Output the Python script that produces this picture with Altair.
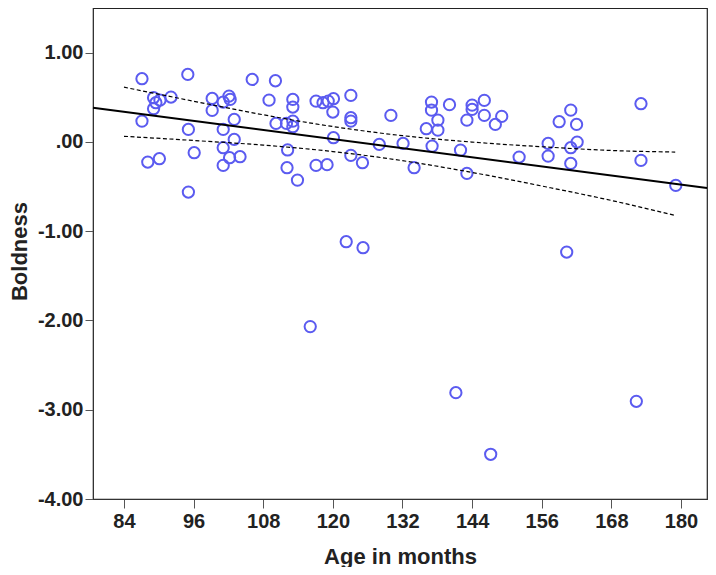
import altair as alt
import pandas as pd

# Scatter points: age (months) and boldness score
age = [87.1, 95.0, 106.1, 110.1, 89.1, 90.2, 89.5, 89.1, 92.1, 87.1,
       99.2, 102.1, 101.1, 102.3, 99.2, 109.0, 113.1, 113.1, 103.0, 101.1,
       95.1, 103.0, 101.1, 102.2, 104.0, 101.1, 96.1, 88.1, 90.1, 95.1,
       110.2, 112.0, 113.1, 113.1, 112.2, 112.1, 113.9, 117.1, 118.3, 119.2,
       120.1, 120.0, 123.1, 123.1, 123.1, 120.1, 123.1, 125.1, 117.1, 119.0,
       130.0, 128.0, 132.1, 134.0, 137.0, 137.0, 138.1, 136.1, 138.1, 137.1,
       140.1, 142.0, 143.1, 144.0, 144.0, 146.1, 146.1, 148.0, 149.1, 143.1,
       152.1, 157.1, 157.1, 159.0, 161.0, 162.0, 162.1, 161.0, 161.0, 173.1,
       173.1, 179.1, 122.3, 125.2, 160.3, 116.1, 141.2, 147.2, 172.3]
boldness = [0.708, 0.756, 0.700, 0.685, 0.495, 0.468, 0.439, 0.372, 0.502, 0.233,
            0.487, 0.513, 0.446, 0.476, 0.353, 0.468, 0.476, 0.390, 0.252, 0.140,
            0.140, 0.028, -0.065, -0.177, -0.166, -0.263, -0.121, -0.226, -0.188, -0.562,
            0.207, 0.207, 0.233, 0.170, -0.090, -0.289, -0.428, 0.457, 0.439, 0.457,
            0.484, 0.334, 0.521, 0.271, 0.233, 0.047, -0.151, -0.233, -0.263, -0.255,
            0.297, -0.028, -0.017, -0.289, 0.446, 0.356, 0.244, 0.148, 0.132, -0.047,
            0.417, -0.092, 0.244, 0.412, 0.364, 0.465, 0.297, 0.196, 0.286, -0.353,
            -0.170, -0.017, -0.159, 0.226, 0.356, 0.196, -0.002, -0.065, -0.241, 0.428,
            -0.207, -0.487, -1.118, -1.185, -1.234, -2.069, -2.809, -3.499, -2.906]

# Fit line end points
fit_x = [78.66, 184.48]
fit_y = [0.383, -0.516]

# Confidence band curves
band_x = [84, 96, 108, 120, 132, 144, 156, 168, 179]
band_upper = [0.613, 0.456, 0.304, 0.172, 0.070, -0.002, -0.054, -0.096, -0.114]
band_lower = [0.063, 0.016, -0.036, -0.108, -0.210, -0.342, -0.494, -0.656, -0.824]

x_ticks = [84, 96, 108, 120, 132, 144, 156, 168, 180]
y_ticks = [-4, -3, -2, -1, 0, 1]

pts = pd.DataFrame({"age": age, "boldness": boldness})
fit = pd.DataFrame({"age": fit_x, "boldness": fit_y})
band = pd.concat([
    pd.DataFrame({"age": band_x, "boldness": band_upper, "side": "upper"}),
    pd.DataFrame({"age": band_x, "boldness": band_lower, "side": "lower"}),
])

FONT = "Liberation Sans"
xs = alt.Scale(domain=[78.66, 184.48], nice=False, zero=False)
ys = alt.Scale(domain=[-4, 1.5], nice=False, zero=False)

x_axis = alt.Axis(values=x_ticks, title="Age in months", grid=False,
                  tickSize=9, labelPadding=3, labelFontSize=20, labelFontWeight="bold",
                  labelFont=FONT, labelColor="#222222", titleFont=FONT, titleFontSize=22,
                  titleFontWeight="bold", titleColor="#222222", titleY=64,
                  titleBaseline="alphabetic", domainColor="#333333", tickColor="#555555",
                  labelFlush=False)
y_axis = alt.Axis(values=y_ticks, title="Boldness", grid=False,
                  tickSize=8, labelPadding=2, labelFontSize=20, labelFontWeight="bold",
                  labelFont=FONT, labelColor="#222222", titleFont=FONT, titleFontSize=22,
                  titleFontWeight="bold", titleColor="#222222", titleX=-67, titleY=243,
                  titleBaseline="alphabetic", domainColor="#333333", tickColor="#555555",
                  labelFlush=False,
                  labelExpr="datum.value == 0 ? '.00' : (datum.value < 0 ? '-' + format(-datum.value, '.2f') : format(datum.value, '.2f'))")

points = alt.Chart(pts).mark_point(shape="circle", filled=False, size=127,
                                   strokeWidth=2, color="#5b5bf0", opacity=1).encode(
    x=alt.X("age:Q", scale=xs, axis=x_axis),
    y=alt.Y("boldness:Q", scale=ys, axis=y_axis),
)

fit_line = alt.Chart(fit).mark_line(color="black", strokeWidth=2).encode(
    x=alt.X("age:Q", scale=xs),
    y=alt.Y("boldness:Q", scale=ys),
)

band_lines = alt.Chart(band).mark_line(color="black", strokeWidth=1.2,
                                       strokeDash=[4, 2.5], interpolate="monotone").encode(
    x=alt.X("age:Q", scale=xs),
    y=alt.Y("boldness:Q", scale=ys),
    detail="side:N",
)

chart = alt.layer(points, fit_line, band_lines).properties(
    width=614, height=491,
    autosize=alt.AutoSizeParams(type="none"),
    padding={"left": 85, "top": 0, "right": 1, "bottom": 68},
    background="white",
).configure_view(stroke="#222222", strokeWidth=1.2)

chart.save("out.html", embed_options={"renderer": "svg", "actions": False})
